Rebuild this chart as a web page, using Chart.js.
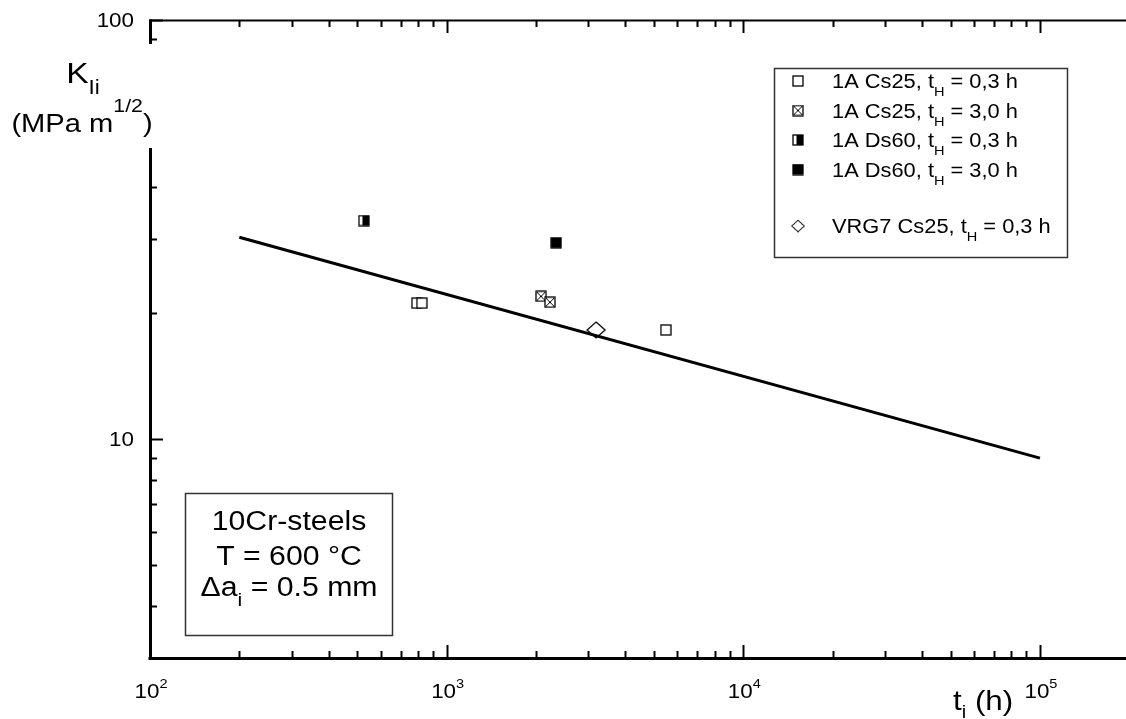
<!DOCTYPE html>
<html>
<head>
<meta charset="utf-8">
<script src="https://cdn.jsdelivr.net/npm/chart.js@4.4.1/dist/chart.umd.min.js"></script>
<style>
  html, body { margin: 0; padding: 0; background: #fff; overflow: hidden; }
  #kii-chart { display: block; }
</style>
</head>
<body>
<canvas id="kii-chart" width="1126" height="719"></canvas>
<script>
// initiation time t_i (h) and K_Ii (MPa m^1/2) per specimen group
const cs25Short = { t: [794, 825, 5480], k: [21.1, 21.1, 18.2] };
const cs25Long = { t: [2080, 2230], k: [21.9, 21.2] };
const ds60Short = { t: [526], k: [33.2] };
const ds60Long = { t: [2340], k: [29.4] };
const vrg7Short = { t: [3190], k: [18.2] };

// scatter band line
const fitT = [200, 100000];
const fitK = [30.3, 9.0];

const seriesNames = ["1A Cs25", "1A Cs25", "1A Ds60", "1A Ds60", "VRG7 Cs25"];
const holdTimes = ["0,3", "3,0", "0,3", "3,0", "0,3"];

const xMajor = [100, 1000, 10000, 100000];
const yMajor = [10, 100];

const FONT = "'Liberation Sans', Arial, sans-serif";
let SX = 1.12; // text is drawn slightly wide

function makeMarker(kind) {
  const c = document.createElement("canvas");
  if (kind === "diamond") {
    c.width = 20;
    c.height = 18;
  } else {
    c.width = 12;
    c.height = 12;
  }
  const g = c.getContext("2d");
  g.strokeStyle = "#000";
  g.fillStyle = "#fff";
  g.lineWidth = 1.3;
  if (kind === "diamond") {
    g.beginPath();
    g.moveTo(10, 1);
    g.lineTo(19, 9);
    g.lineTo(10, 17);
    g.lineTo(1, 9);
    g.closePath();
    g.fill();
    g.stroke();
    return c;
  }
  g.fillRect(1, 1, 10, 10);
  g.fillStyle = "#000";
  if (kind === "filled") g.fillRect(1, 1, 10, 10);
  if (kind === "half") g.fillRect(4.5, 1, 6.5, 10);
  if (kind === "cross") {
    g.lineWidth = 1;
    g.beginPath();
    g.moveTo(2, 2);
    g.lineTo(10, 10);
    g.moveTo(10, 2);
    g.lineTo(2, 10);
    g.stroke();
    g.lineWidth = 1.3;
  }
  g.strokeRect(1, 1, 10, 10);
  return c;
}

const markers = [
  makeMarker("open"),
  makeMarker("cross"),
  makeMarker("half"),
  makeMarker("filled"),
  makeMarker("diamond"),
];

const groups = [cs25Short, cs25Long, ds60Short, ds60Long, vrg7Short];

const pointSets = groups.map((grp, i) => ({
  label: seriesNames[i] + ", tH = " + holdTimes[i] + " h",
  data: grp.t.map((t, j) => ({ x: t, y: grp.k[j] })),
  pointStyle: markers[i],
  pointRadius: 6,
  showLine: false,
}));

const fitLine = {
  label: "fit",
  data: fitT.map((t, j) => ({ x: t, y: fitK[j] })),
  showLine: true,
  borderColor: "#000",
  borderWidth: 3,
  pointRadius: 0,
  fill: false,
};

// text helpers: runs of {text, size, dy} for sub/superscripts
const run = (text, size, dy = 0) => ({ text, size, dy });

function runWidth(ctx, parts) {
  let w = 0;
  parts.forEach((p) => {
    ctx.font = p.size + "px " + FONT;
    w += ctx.measureText(p.text).width;
  });
  return w * SX;
}

function drawRuns(ctx, parts, x, y, align) {
  const w = runWidth(ctx, parts);
  let cx = align === "center" ? x - w / 2 : align === "right" ? x - w : x;
  ctx.save();
  ctx.fillStyle = "#000";
  ctx.textAlign = "left";
  ctx.textBaseline = "alphabetic";
  parts.forEach((p) => {
    ctx.font = p.size + "px " + FONT;
    ctx.save();
    ctx.translate(cx, y + p.dy);
    ctx.scale(SX, 1);
    ctx.fillText(p.text, 0, 0);
    ctx.restore();
    cx += ctx.measureText(p.text).width * SX;
  });
  ctx.restore();
}

function hLine(ctx, x1, x2, y, w) {
  ctx.lineWidth = w;
  ctx.beginPath();
  ctx.moveTo(x1, y);
  ctx.lineTo(x2, y);
  ctx.stroke();
}

function vLine(ctx, x, y1, y2, w) {
  ctx.lineWidth = w;
  ctx.beginPath();
  ctx.moveTo(x, y1);
  ctx.lineTo(x, y2);
  ctx.stroke();
}

// log ticks: decades are major, 2..9 multiples are minor
function logTicks(min, max) {
  const out = [];
  for (let d = Math.pow(10, Math.floor(Math.log10(min))); d <= max; d *= 10) {
    for (let k = 1; k <= 9; k++) {
      const v = k * d;
      if (v >= min && v <= max) out.push({ v, major: k === 1 });
    }
  }
  return out;
}

const framePlugin = {
  id: "frame",
  afterDraw(chart) {
    const ctx = chart.ctx;
    const { left, right, top, bottom } = chart.chartArea;
    const xs = chart.scales.x;
    const ys = chart.scales.y;
    ctx.save();
    ctx.strokeStyle = "#000";
    ctx.lineCap = "butt";

    // frame lines
    hLine(ctx, left - 1, right, top + 0.5, 2);
    hLine(ctx, left - 1.5, right, bottom + 0.5, 3);
    vLine(ctx, left + 0.5, top - 0.5, bottom + 2, 3);

    // x ticks, bottom and top (inward)
    logTicks(xs.min, xs.max).forEach((t) => {
      const px = Math.round(xs.getPixelForValue(t.v)) + 0.5;
      const len = t.major ? 13 : 7;
      vLine(ctx, px, bottom, bottom - len, 2);
      vLine(ctx, px, top, top + len, 2);
    });

    // y ticks (inward)
    logTicks(ys.min, ys.max).forEach((t) => {
      const py = Math.round(ys.getPixelForValue(t.v)) + 0.5;
      const len = t.major ? 13 : 7;
      hLine(ctx, left, left + len, py, 2);
    });

    // x tick labels 10^n
    xMajor.forEach((v) => {
      const px = xs.getPixelForValue(v);
      const e = String(Math.round(Math.log10(v)));
      drawRuns(ctx, [run("10", 20), run(e, 13, -10)], px + 1, 698, "center");
    });

    // y tick labels
    yMajor.forEach((v) => {
      const py = ys.getPixelForValue(v);
      drawRuns(ctx, [run(String(v), 20)], left - 16, py + 7, "right");
    });

    // y title sits on a white patch over the axis
    ctx.fillStyle = "#fff";
    ctx.fillRect(0, 44, left + 14, 104);
    drawRuns(ctx, [run("K", 30), run("Ii", 20, 11)], 83, 83, "center");
    drawRuns(ctx, [run("(MPa m", 26), run("1/2", 19, -20), run(")", 26)], 82, 132, "center");

    // x title
    drawRuns(ctx, [run("t", 28), run("i", 18, 8), run(" (h)", 28)], 953, 710, "left");

    // legend
    ctx.lineWidth = 1.5;
    ctx.strokeStyle = "#333";
    ctx.strokeRect(774.5, 68.5, 293, 189);
    pointSets.forEach((ds, i) => {
      const base = 88 + i * 29.5 + (i >= 4 ? 27 : 0);
      const img = ds.pointStyle;
      const w = i === 4 ? 14 : img.width;
      const h = i === 4 ? 13 : img.height;
      ctx.drawImage(img, 798 - w / 2, base - 7 - h / 2, w, h);
      drawRuns(
        ctx,
        [run(seriesNames[i] + ", t", 19.5), run("H", 13, 8), run(" = " + holdTimes[i] + " h", 19.5)],
        832,
        base,
        "left"
      );
    });

    // condition box
    ctx.strokeRect(185.5, 493.5, 207, 142);
    drawRuns(ctx, [run("10Cr-steels", 27)], 289, 530, "center");
    drawRuns(ctx, [run("T = 600 °C", 27)], 289, 565, "center");
    drawRuns(ctx, [run("Δa", 27), run("i", 19, 10), run(" = 0.5 mm", 27)], 289, 596, "center");

    ctx.restore();
  },
};

const canvas = document.querySelector("#kii-chart");
const kiiChart = new Chart(canvas, {
  type: "scatter",
  data: {
    datasets: [fitLine, ...pointSets],
  },
  options: {
    responsive: false,
    animation: false,
    devicePixelRatio: 1,
    layout: { autoPadding: false, padding: { left: 150, top: 20, right: 0, bottom: 61 } },
    scales: {
      x: { type: "logarithmic", min: 100, max: 195000, display: false },
      y: { type: "logarithmic", min: 3, max: 100, display: false },
    },
    plugins: {
      legend: { display: false },
      tooltip: { enabled: false },
    },
  },
  plugins: [framePlugin],
});
</script>
</body>
</html>
